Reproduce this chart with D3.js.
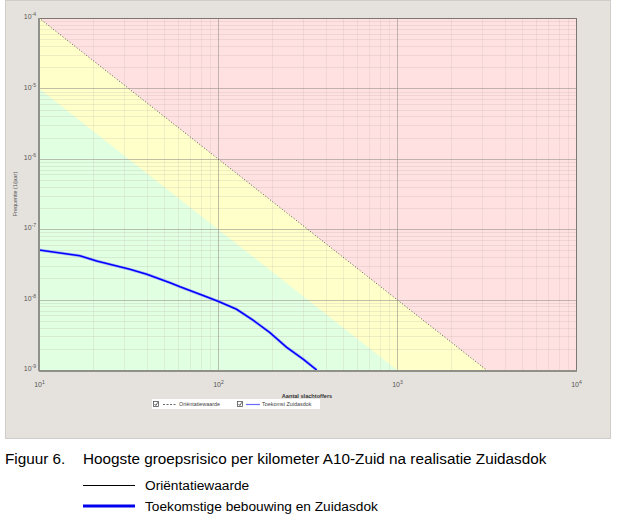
<!DOCTYPE html>
<html>
<head>
<meta charset="utf-8">
<script src="https://cdn.jsdelivr.net/npm/d3@7"></script>
<style>
html,body{margin:0;padding:0;background:#fff;}
svg{display:block;font-family:"Liberation Sans",Arial,sans-serif;}
</style>
</head>
<body>
<svg id="c" width="625" height="521"></svg>
<script>
// ---- data ----
const xTickValues = [10, 100, 1000, 10000];
const xTickExps = ["1", "2", "3", "4"];
const yTickValues = [1e-9, 1e-8, 1e-7, 1e-6, 1e-5, 1e-4];
const yTickExps = ["-9", "-8", "-7", "-6", "-5", "-4"];
// Oriëntatiewaarde (upper boundary of yellow zone)
const orientN = [10, 100, 1000, 3162];
const orientF = [1e-4, 1e-6, 1e-8, 1e-9];
// lower boundary of yellow zone (0.1 x oriëntatiewaarde)
const lowerN = [10, 100, 1000];
const lowerF = [1e-5, 1e-7, 1e-9];
// Toekomst Zuidasdok FN curve
const zuidN = [10, 16.9, 21.0, 32.2, 40.0, 53.9, 61.4, 82.7, 100, 127, 157, 195, 242, 300, 356];
const zuidF = [5.07e-8, 4.2e-8, 3.53e-8, 2.69e-8, 2.29e-8, 1.74e-8, 1.52e-8, 1.14e-8, 9.5e-9, 7.3e-9, 5.1e-9, 3.4e-9, 2.1e-9, 1.42e-9, 1.0e-9];
const captionNum = "Figuur 6.";
const captionText = "Hoogste groepsrisico per kilometer A10-Zuid na realisatie Zuidasdok";
const legendLabels = ["Oriëntatiewaarde", "Toekomstige bebouwing en Zuidasdok"];
const innerLegendLabels = ["Oriëntatiewaarde", "Toekomst Zuidasdok"];

// ---- layout ----
const svg = d3.select("#c");
const L = 39, R = 576, T = 18, B = 370;
const x = d3.scaleLog().domain([10, 10000]).range([L, R]);
const y = d3.scaleLog().domain([1e-9, 1e-4]).range([B, T]);

// panel
svg.append("rect").attr("x", 5.5).attr("y", 0.5).attr("width", 605).attr("height", 438)
  .attr("fill", "#e5e2dd").attr("stroke", "#cfcdc9");

const defs = svg.append("defs");
defs.append("clipPath").attr("id", "plotclip").append("rect")
  .attr("x", L).attr("y", T).attr("width", R - L).attr("height", B - T);

const plot = svg.append("g").attr("clip-path", "url(#plotclip)");

// zones
plot.append("rect").attr("x", L).attr("y", T).attr("width", R - L).attr("height", B - T).attr("fill", "#ffe1e1");
const pts = (N, F) => N.map((n, i) => [x(n), y(F[i])]);
const up = pts(orientN, orientF);
const lo = pts(lowerN, lowerF);
plot.append("path").attr("fill", "#ffffc9")
  .attr("d", d3.line()([...up, [x(10), y(1e-9)]]));
plot.append("path").attr("fill", "#e1ffe1")
  .attr("d", d3.line()([...lo, [x(10), y(1e-9)]]));

// grid
const xMinor = x.ticks().filter(v => !xTickValues.includes(v));
const yMinor = y.ticks().filter(v => !yTickValues.some(t => Math.abs(t - v) / t < 1e-6));
const gridG = plot.append("g");
gridG.selectAll(".yminor").data(yMinor).join("line")
  .attr("x1", L).attr("x2", R).attr("y1", d => Math.round(y(d)) + 0.5).attr("y2", d => Math.round(y(d)) + 0.5)
  .attr("stroke", "#b0a8a0").attr("stroke-opacity", 0.22);
gridG.selectAll(".xminor").data(xMinor).join("line")
  .attr("y1", T).attr("y2", B).attr("x1", d => Math.round(x(d)) + 0.5).attr("x2", d => Math.round(x(d)) + 0.5)
  .attr("stroke", "#b0a8a0").attr("stroke-opacity", 0.18);
gridG.selectAll(".ymajor").data(yTickValues).join("line")
  .attr("x1", L).attr("x2", R).attr("y1", d => Math.round(y(d)) + 0.5).attr("y2", d => Math.round(y(d)) + 0.5)
  .attr("stroke", "#9a928a").attr("stroke-opacity", 0.6);
gridG.selectAll(".xmajor").data(xTickValues).join("line")
  .attr("y1", T).attr("y2", B).attr("x1", d => Math.round(x(d)) + 0.5).attr("x2", d => Math.round(x(d)) + 0.5)
  .attr("stroke", "#9a928a").attr("stroke-opacity", 0.6);

// oriëntatiewaarde dotted line
plot.append("path").attr("fill", "none").attr("stroke", "#555").attr("stroke-width", 1)
  .attr("stroke-dasharray", "1,2")
  .attr("d", d3.line()(up));

// Zuidasdok curve
const zline = d3.line().x((d, i) => x(zuidN[i])).y(d => y(d));
plot.append("path").attr("fill", "none").attr("stroke", "#8a8aff").attr("stroke-width", 3).attr("stroke-opacity", 0.6)
  .attr("d", zline(zuidF));
plot.append("path").attr("fill", "none").attr("stroke", "#0000ff").attr("stroke-width", 1.6)
  .attr("d", zline(zuidF));

// border
svg.append("rect").attr("x", L + 0.5).attr("y", T + 0.5).attr("width", R - L).attr("height", B - T)
  .attr("fill", "none").attr("stroke", "#7d7770");
svg.append("line").attr("x1", L).attr("x2", L).attr("y1", T).attr("y2", B + 1)
  .attr("stroke", "#8f9188").attr("stroke-width", 2);
svg.append("line").attr("x1", L).attr("x2", R + 1).attr("y1", B + 1).attr("y2", B + 1)
  .attr("stroke", "#8f9188").attr("stroke-width", 2);

// axes
function supLabels(sel, exps) {
  sel.selectAll(".tick text").each(function (d, i) {
    const t = d3.select(this);
    t.text("");
    t.append("tspan").text("10");
    t.append("tspan").attr("dy", "-0.6em").attr("font-size", "5px").text(exps[i]);
  });
}
const yAxis = d3.axisLeft(y).tickValues(yTickValues).tickSize(0).tickPadding(3).tickFormat(() => "");
const gy = svg.append("g").attr("transform", `translate(${L},0)`).call(yAxis);
gy.select(".domain").remove();
gy.selectAll(".tick text").attr("font-size", "7px").attr("fill", "#555").attr("dy", "0.1em");
supLabels(gy, yTickExps);

const xAxis = d3.axisBottom(x).tickValues(xTickValues).tickSize(0).tickPadding(12).tickFormat(() => "");
const gx = svg.append("g").attr("transform", `translate(0,${B})`).call(xAxis);
gx.select(".domain").remove();
gx.selectAll(".tick text").attr("font-size", "7px").attr("fill", "#555");
supLabels(gx, xTickExps);

// axis titles
svg.append("text").attr("x", 307).attr("y", 398).attr("text-anchor", "middle")
  .attr("font-size", "5.6px").attr("fill", "#333").attr("font-weight", "bold").text("Aantal slachtoffers");
svg.append("text").attr("transform", "translate(17,194) rotate(-90)").attr("text-anchor", "middle")
  .attr("font-size", "5.4px").attr("fill", "#555").text("Frequentie (1/jaar)");

// inner legend
const lg = svg.append("g");
lg.append("rect").attr("x", 152).attr("y", 399).attr("width", 168).attr("height", 10).attr("fill", "#fff");
[[153, 0], [237, 1]].forEach(([bx, i]) => {
  lg.append("rect").attr("x", bx + 0.5).attr("y", 401.5).attr("width", 5).attr("height", 5)
    .attr("fill", "#fff").attr("stroke", "#555").attr("stroke-width", 0.8);
  lg.append("path").attr("d", `M${bx + 1.5},404 L${bx + 2.8},405.5 L${bx + 4.8},402.3`)
    .attr("fill", "none").attr("stroke", "#333").attr("stroke-width", 0.8);
});
lg.append("line").attr("x1", 163).attr("x2", 177).attr("y1", 404.5).attr("y2", 404.5)
  .attr("stroke", "#666").attr("stroke-dasharray", "2,1.5");
lg.append("text").attr("x", 179).attr("y", 406.3).attr("font-size", "5.4px").attr("fill", "#444").text(innerLegendLabels[0]);
lg.append("line").attr("x1", 246).attr("x2", 260).attr("y1", 404.5).attr("y2", 404.5)
  .attr("stroke", "#6a6aff").attr("stroke-width", 1.2);
lg.append("text").attr("x", 262).attr("y", 406.3).attr("font-size", "5.4px").attr("fill", "#444").text(innerLegendLabels[1]);

// caption
svg.append("text").attr("x", 5).attr("y", 464).attr("font-size", "15.3px").attr("fill", "#000").text(captionNum);
svg.append("text").attr("x", 83).attr("y", 464).attr("font-size", "15.3px").attr("fill", "#000").text(captionText);
// bottom legend
svg.append("line").attr("x1", 83).attr("x2", 135).attr("y1", 485.5).attr("y2", 485.5).attr("stroke", "#000").attr("stroke-width", 1);
svg.append("text").attr("x", 145).attr("y", 490).attr("font-size", "13.7px").attr("fill", "#000").text(legendLabels[0]);
svg.append("line").attr("x1", 83).attr("x2", 135).attr("y1", 506).attr("y2", 506).attr("stroke", "#0000ee").attr("stroke-width", 3);
svg.append("text").attr("x", 145).attr("y", 511).attr("font-size", "13.7px").attr("fill", "#000").text(legendLabels[1]);
</script>
</body>
</html>
